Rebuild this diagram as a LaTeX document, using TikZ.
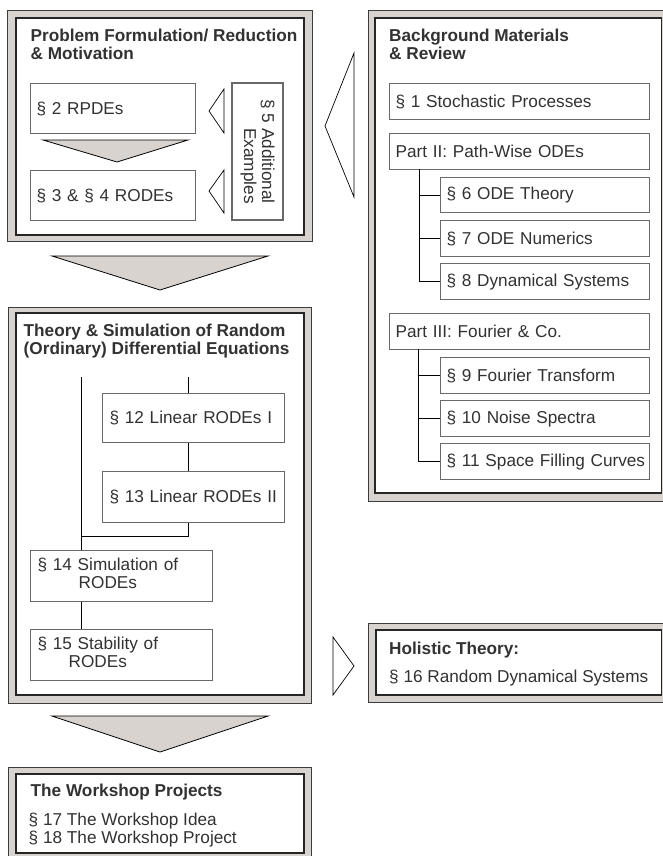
\documentclass[tikz,border=0pt]{standalone}
\usepackage{fontspec}
\setmainfont{Liberation Sans}
\usetikzlibrary{calc}
\definecolor{fgray}{RGB}{216,211,207}
\definecolor{txt}{RGB}{50,50,50}
\definecolor{bgray}{RGB}{105,105,105}
\definecolor{fline}{RGB}{60,60,60}
\begin{document}
\begin{tikzpicture}[x=1pt,y=-1pt,
 every node/.style={font=\fontsize{17.2pt}{18pt}\selectfont, text=txt},
 outerfr/.style={fill=fgray, draw=fline, line width=1pt},
 innerfr/.style={fill=white, draw=black!85, line width=1.1pt},
 sbox/.style={draw=bgray, fill=white, line width=1.2pt, anchor=north west, inner xsep=6pt, inner ysep=0pt, align=left},
 ttl/.style={anchor=base west, inner sep=0pt, font=\fontsize{17.2pt}{18pt}\selectfont\bfseries},
 txtl/.style={anchor=base west, inner sep=0pt},
 conn/.style={draw=black, line width=0.8pt},
 gtri/.style={fill=fgray, draw=black, line width=0.8pt, line join=miter},
 otri/.style={fill=white, draw=black, line width=0.7pt, line join=miter}]
\useasboundingbox (0,0) rectangle (663,856);
\clip (0,0) rectangle (663,856);

% ---------- Frame 1 ----------
\draw[outerfr] (7.5,11) rectangle (312,241);
\draw[innerfr] (16,18) rectangle (304,235);
\node[ttl] (t1a) at (30.5,41.5) {Problem Formulation/ Reduction};
\node[ttl] (t1b) at (30.5,59.5) {\& Motivation};
\node[sbox, minimum width=165pt, minimum height=50pt, text width=153pt] (s2) at (30,83) {\mbox{§ 2 RPDEs}};
\node[sbox, minimum width=165pt, minimum height=50pt, text width=153pt] (s34) at (30,170) {\mbox{§ 3 \& § 4 RODEs}};
\node[draw=bgray, fill=white, line width=1.2pt, rotate=-90, minimum width=137pt, minimum height=51pt, inner sep=0pt, align=right] (s5) at (257.5,151.5) {§ 5 Additional\\Examples};
\draw[gtri] (43,140) -- (188,140) -- (117,162) -- cycle;
\draw[otri] (224,89) -- (209,111) -- (224,133) -- cycle;
\draw[otri] (224,170) -- (209,191) -- (224,213) -- cycle;

% big arrows
\draw[gtri] (52,256) -- (268,256) -- (160,290) -- cycle;
\draw[otri] (354,53) -- (325,126) -- (354,197) -- cycle;

% ---------- Frame 2 ----------
\draw[outerfr] (368,11) rectangle (672,501);
\draw[innerfr] (375,18) rectangle (661.5,493);
\node[ttl] (t2a) at (389,41.5) {Background Materials};
\node[ttl] (t2b) at (389,59.5) {\& Review};
\node[sbox, minimum width=260pt, minimum height=36pt, text width=248pt] (s1) at (389,83) {\mbox{§ 1 Stochastic Processes}};
\node[sbox, minimum width=260pt, minimum height=36pt, text width=248pt] (p2) at (389,133) {\mbox{Part II: Path-Wise ODEs}};
\node[sbox, minimum width=209pt, minimum height=35pt, text width=197pt] (s6) at (440,177) {\mbox{§ 6 ODE Theory}};
\node[sbox, minimum width=209pt, minimum height=36pt, text width=197pt] (s7) at (440,220) {\mbox{§ 7 ODE Numerics}};
\node[sbox, minimum width=209pt, minimum height=36pt, text width=197pt] (s8) at (440,263) {\mbox{§ 8 Dynamical Systems}};
\node[sbox, minimum width=260pt, minimum height=36pt, text width=248pt] (p3) at (389,313) {\mbox{Part III: Fourier \& Co.}};
\node[sbox, minimum width=209pt, minimum height=36pt, text width=197pt] (s9) at (440,357) {\mbox{§ 9 Fourier Transform}};
\node[sbox, minimum width=209pt, minimum height=36pt, text width=197pt] (s10) at (440,400) {\mbox{§ 10 Noise Spectra}};
\node[sbox, minimum width=209pt, minimum height=36pt, text width=197pt] (s11) at (440,443) {\mbox{§ 11 Space Filling Curves}};
\coordinate (b2) at (419,169);
\coordinate (b3) at (418,349);
\draw[conn] (b2) -- (b2 |- s8.west) -- (s8.west);
\draw[conn] (b2 |- s6.west) -- (s6.west);
\draw[conn] (b2 |- s7.west) -- (s7.west);
\draw[conn] (b3) -- (b3 |- s11.west) -- (s11.west);
\draw[conn] (b3 |- s9.west) -- (s9.west);
\draw[conn] (b3 |- s10.west) -- (s10.west);

% ---------- Frame 3 ----------
\draw[outerfr] (8,307) rectangle (311,703);
\draw[innerfr] (16,313) rectangle (304,695);
\node[ttl] (t3a) at (23.5,336.5) {Theory \& Simulation of Random};
\node[ttl] (t3b) at (23.5,354.5) {(Ordinary) Differential Equations};
\node[sbox, minimum width=180pt, minimum height=49pt, text width=168pt, inner xsep=7pt] (s12) at (102,393) {\mbox{§ 12 Linear RODEs I}};
\node[sbox, minimum width=180pt, minimum height=51pt, text width=168pt, inner xsep=7pt] (s13) at (102,471) {\mbox{§ 13 Linear RODEs II}};
\node[sbox, minimum width=180pt, minimum height=51pt, text width=168pt, inner xsep=7pt] (s14) at (30,550) {\begin{tabular}{@{}c@{}}§ 14 Simulation of\\RODEs\end{tabular}};
\node[sbox, minimum width=180pt, minimum height=51pt, text width=168pt, inner xsep=7pt] (s15) at (30,629) {\begin{tabular}{@{}c@{}}§ 15 Stability of\\RODEs\end{tabular}};
\coordinate (l0) at (81,377);
\coordinate (l1) at (188,377);
\coordinate (j1) at (188,536);
\draw[conn] (l0) -- (l0 |- s14.north);
\draw[conn] (l1) -- (l1 |- s12.north);
\draw[conn] (s12.south -| l1) -- (s13.north -| l1);
\draw[conn] (s13.south -| l1) -- (j1) -- (j1 -| l0);
\draw[conn] (s14.south -| l0) -- (s15.north -| l0);

% arrow to holistic
\draw[otri] (333,637) -- (354,666) -- (333,695) -- cycle;

% ---------- Holistic ----------
\draw[outerfr] (368,623) rectangle (672,702);
\draw[innerfr] (376,630) rectangle (661.5,695);
\node[ttl] (h1) at (389,654) {Holistic Theory:};
\node[txtl] (s16) at (389,682) {§ 16 Random Dynamical Systems};

% arrow down
\draw[gtri] (52,716) -- (268,716) -- (160,752) -- cycle;

% ---------- Workshop ----------
\draw[outerfr] (8,767) rectangle (311,866);
\draw[innerfr] (16,774) rectangle (304,853);
\node[ttl] (w1) at (30.5,796.5) {The Workshop Projects};
\node[txtl] (s17) at (28.5,825.5) {§ 17 The Workshop Idea};
\node[txtl] (s18) at (28.5,843.5) {§ 18 The Workshop Project};
\end{tikzpicture}
\end{document}
